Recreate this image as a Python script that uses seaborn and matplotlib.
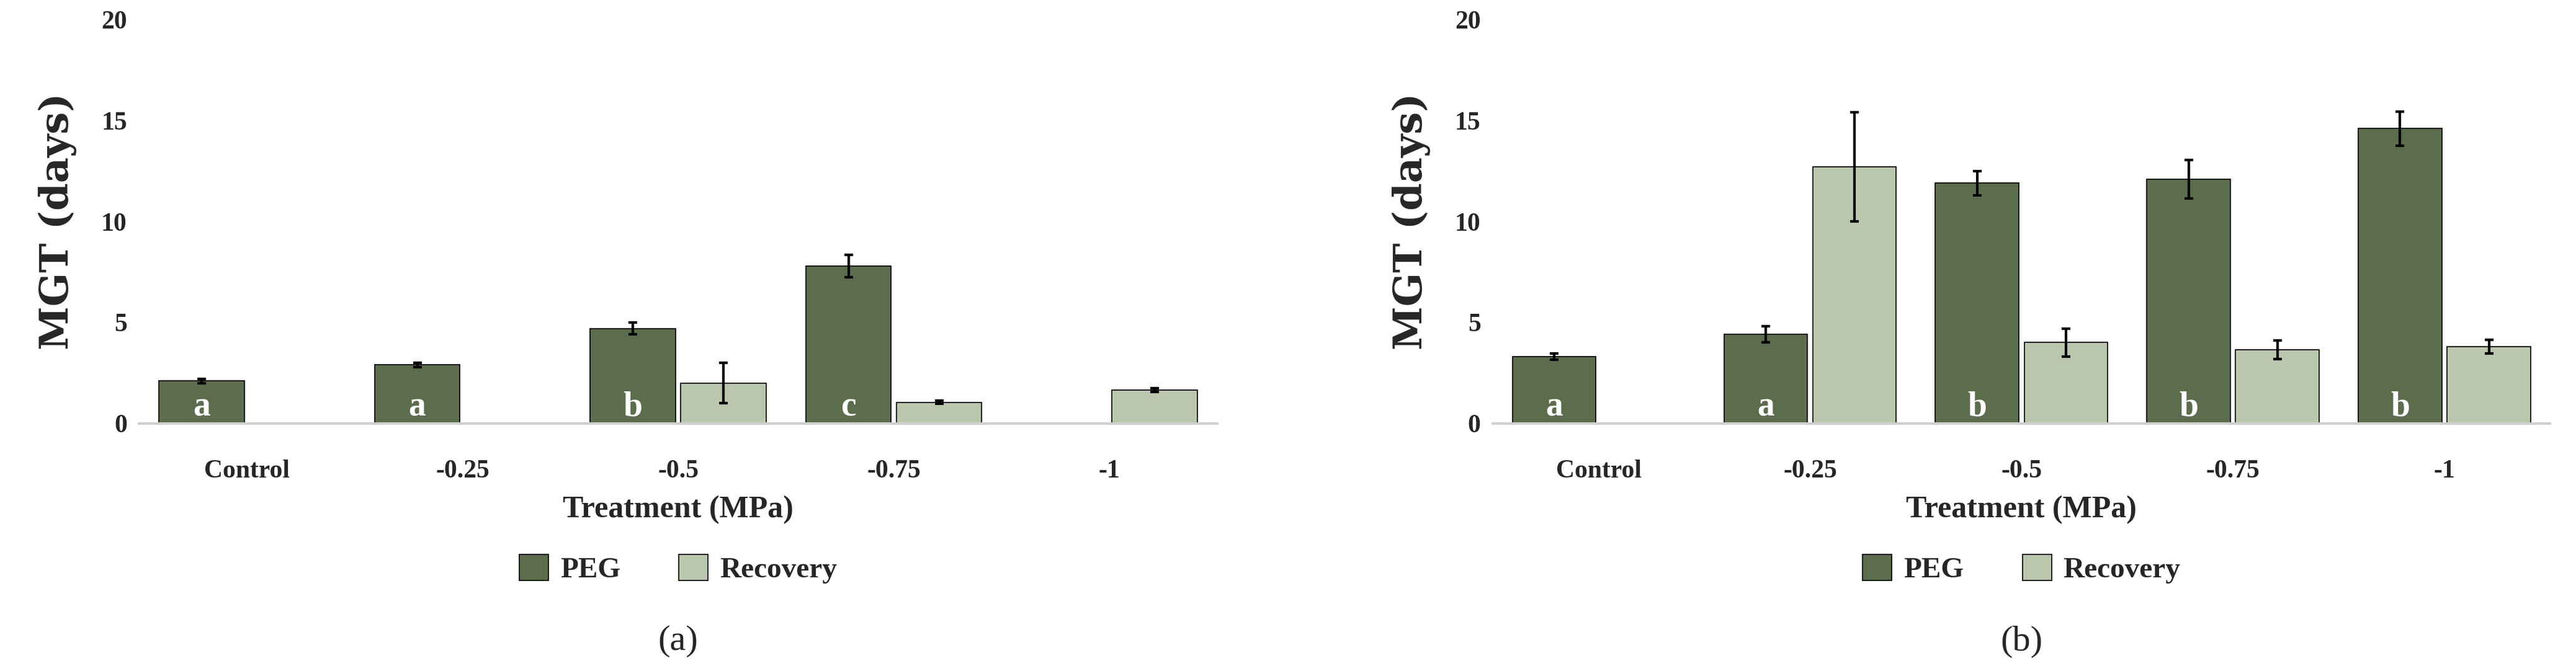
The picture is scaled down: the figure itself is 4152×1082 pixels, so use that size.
import numpy as np
import pandas as pd
import matplotlib
matplotlib.use("Agg")
import matplotlib.pyplot as plt
import seaborn as sns

sns.set_theme(style="white")
plt.rcParams['font.family'] = ['Liberation Serif', 'DejaVu Serif']
plt.rcParams['font.weight'] = 'bold'

categories = ["Control", "-0.25", "-0.5", "-0.75", "-1"]
series = ["PEG", "Recovery"]
a_peg = [2.1, 2.9, 4.7, 7.8, np.nan]
a_peg_err = [0.1, 0.1, 0.3, 0.55, np.nan]
a_rec = [np.nan, np.nan, 2.0, 1.05, 1.65]
a_rec_err = [np.nan, np.nan, 1.0, 0.08, 0.08]
a_letters = ["a", "a", "b", "c", ""]
b_peg = [3.3, 4.4, 11.9, 12.1, 14.6]
b_peg_err = [0.15, 0.4, 0.6, 0.95, 0.85]
b_rec = [np.nan, 12.7, 4.0, 3.65, 3.8]
b_rec_err = [np.nan, 2.7, 0.7, 0.45, 0.35]
b_letters = ["a", "a", "b", "b", "b"]

colors = {"PEG": "#5b7346", "Recovery": "#bacba9"}

fig = plt.figure(figsize=(41.52, 10.82), dpi=100)
axes = [fig.add_axes([0.054, 0.369, 0.4185, 0.602]),
        fig.add_axes([0.5795, 0.369, 0.4105, 0.602])]

panels = [(a_peg, a_peg_err, a_rec, a_rec_err, a_letters, "(a)"),
          (b_peg, b_peg_err, b_rec, b_rec_err, b_letters, "(b)")]

for ax, (peg, pe, rec, re_, letters, tag) in zip(axes, panels):
    df = pd.DataFrame({
        "Treatment": categories * 2,
        "Series": ["PEG"] * 5 + ["Recovery"] * 5,
        "MGT": list(peg) + list(rec),
    })
    sns.barplot(data=df, x="Treatment", y="MGT", hue="Series", order=categories,
                hue_order=series, palette=colors, edgecolor="black", linewidth=1.2,
                width=0.84, gap=0.06, errorbar=None, ax=ax)
    for vals, errs, off in [(peg, pe, -0.21), (rec, re_, 0.21)]:
        for i, (v, e) in enumerate(zip(vals, errs)):
            if not np.isnan(v):
                ax.errorbar(i + off, v, yerr=e, fmt="none", ecolor="black",
                            elinewidth=3, capsize=5, capthick=3, zorder=5)
    for i, (lt, v) in enumerate(zip(letters, peg)):
        if lt:
            ax.text(i - 0.21, 0.8, lt, color="white", ha="center", va="center",
                    fontsize=40, fontweight="bold")
    ax.set_ylim(0, 20)
    ax.set_xlim(-0.5, 4.5)
    ax.set_yticks([0, 5, 10, 15, 20])
    ax.tick_params(axis="both", labelsize=30, length=0, pad=14)
    ax.tick_params(axis="x", pad=42)
    ax.set_ylabel("MGT (days)", fontsize=46, fontweight="bold", labelpad=28,
                  family="DejaVu Serif")
    ax.set_xlabel("Treatment (MPa)", fontsize=36, fontweight="bold", labelpad=14)
    for s in ["left", "right", "top"]:
        ax.spines[s].set_visible(False)
    ax.spines["bottom"].set_color("#d0d0d0")
    ax.spines["bottom"].set_linewidth(3)
    ax.legend(loc="center", bbox_to_anchor=(0.5, -0.36), ncol=2, frameon=False,
              fontsize=34, handlelength=1.0, handleheight=1.0, columnspacing=2.0,
              handletextpad=0.4)
    ax.text(0.5, -0.54, tag, transform=ax.transAxes, ha="center", va="center",
            fontsize=42, fontweight="normal")

fig.savefig("out.png", dpi=100)
